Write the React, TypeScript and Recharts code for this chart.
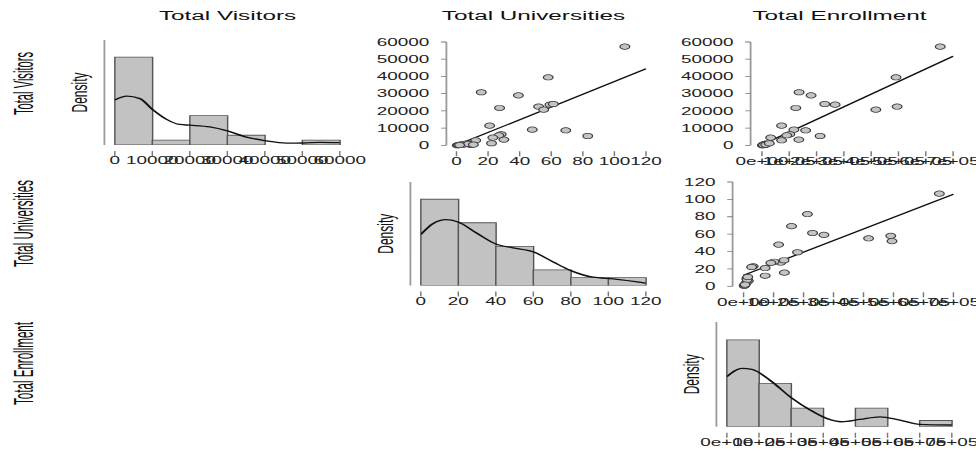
import { Bar, ComposedChart, Label, Line, Scatter, XAxis, YAxis } from "recharts";

// the source image was exported with a horizontal stretch, so draw narrow and scale X
const STRETCH = 1.8;
const PAGE_W = 976 / STRETCH;
const FONT = "'Liberation Sans', Arial, Helvetica, sans-serif";
const AXIS = "#9a9a9a";
const TICK = "#777";
const TICK_FONT = 10.5;
const TOP_PAD = 6;
const RIGHT_PAD = 18;
const X_AXIS_H = 30;

// one record per observation
const visitors = [57300, 39500, 22500, 20700, 23600, 24000, 5400, 29000, 30800, 21700, 8700, 9100, 3300, 6400, 11400, 5800, 2900, 4500, 0, 600, 1000, 200, 100, 300, 800, 150, 400, 1200];
const universities = [106.6, 58.1, 52, 55.2, 59.2, 61.3, 83.1, 39.2, 15.7, 27.3, 69.2, 48, 30, 28.3, 21, 26.9, 12.2, 23, 0.5, 3.1, 6.3, 9, 1.2, 4, 7.5, 2, 10.7, 22.2];
const enrollment = [653000, 491000, 495000, 417000, 268000, 230000, 213000, 180000, 136000, 124000, 160000, 117000, 135000, 102000, 72000, 91000, 72000, 32000, 2000, 7000, 16000, 11000, 3000, 9000, 12000, 5000, 14000, 27000];

const titles = ["Total Visitors", "Total Universities", "Total Enrollment"];

// histogram bins
const visitorEdges = [0, 10000, 20000, 30000, 40000, 50000, 60000];
const visitorCounts = [18, 1, 6, 2, 0, 1];
const universityEdges = [0, 20, 40, 60, 80, 100, 120];
const universityCounts = [11, 8, 5, 2, 1, 1];
const enrollmentEdges = [0, 100000, 200000, 300000, 400000, 500000, 600000, 700000];
const enrollmentCounts = [14, 7, 3, 0, 3, 0, 1];

// density curves (on the count scale of each histogram)
const visitorCurveX = [0, 3200, 6700, 10000, 13800, 17300, 20000, 25300, 30000, 35100, 40000, 45800, 50200, 54700, 60000];
const visitorCurveY = [9.2, 10.0, 9.5, 7.3, 5.25, 4.2, 4.05, 3.7, 2.9, 1.6, 0.9, 0.4, 0.41, 0.55, 0.48];
const universityCurveX = [0, 6.6, 13.3, 19.9, 29.7, 40, 49.2, 59.9, 70.6, 80, 91.9, 102.6, 120];
const universityCurveY = [6.5, 7.9, 8.4, 8.1, 6.7, 5.3, 4.8, 4.3, 3.0, 1.9, 1.06, 0.85, 0.3];
const enrollmentCurveX = [0, 47000, 78000, 134000, 200000, 259000, 310000, 357000, 414000, 476000, 538000, 600000, 700000];
const enrollmentCurveY = [8.06, 9.4, 9.25, 7.5, 4.7, 2.7, 1.34, 0.8, 1.18, 1.6, 1.07, 0.38, 0.27];

// fitted lines
const fitVisUnivX = [1, 120];
const fitVisUnivY = [400, 44500];
const fitVisEnrX = [4000, 700000];
const fitVisEnrY = [600, 51700];
const fitUnivEnrX = [0, 700000];
const fitUnivEnrY = [12.7, 105.8];

// ticks
const visitorTicks = [0, 10000, 20000, 30000, 40000, 50000, 60000];
const universityTicks = [0, 20, 40, 60, 80, 100, 120];
const enrollmentTicks = [0, 100000, 200000, 300000, 400000, 500000, 600000, 700000];
const enrollmentTickLabels = ["0e+00", "1e+05", "2e+05", "3e+05", "4e+05", "5e+05", "6e+05", "7e+05"];

type Frame = { left: number; right: number; top: number; bottom: number; pad: number; axisW: number };

const XTick = ({ x, y, payload, ticks, labels }: any) => {
  const i = ticks.indexOf(payload.value);
  const text = labels ? labels[i] : String(payload.value);
  return (
    <g>
      <line x1={x} x2={x} y1={y + 6} y2={y + 11} stroke={TICK} strokeWidth={0.8} />
      <text x={x} y={y + 12} dy="0.71em" textAnchor="middle" fontSize={TICK_FONT} fill="#222" fontFamily={FONT}>
        {text}
      </text>
    </g>
  );
};

const boxStyle = (f: Frame) => ({
  position: "absolute" as const,
  left: f.left - f.axisW,
  top: f.top - TOP_PAD,
});

const Histogram = ({ frame, edges, counts, yMax, curveX, curveY, ticks, labels }: any) => {
  const bars = counts.map((c: number, i: number) => ({ bin: `${edges[i]}-${edges[i + 1]}`, count: c }));
  const curve = curveX.map((x: number, i: number) => ({ x, y: curveY[i] }));
  const f: Frame = frame;
  return (
    <div style={boxStyle(f)}>
      <ComposedChart
        width={f.axisW + f.right - f.left + RIGHT_PAD}
        height={TOP_PAD + f.bottom - f.top + X_AXIS_H}
        data={bars}
        margin={{ top: TOP_PAD, right: RIGHT_PAD, bottom: 0, left: 0 }}
        barCategoryGap={0}
        barGap={0}
      >
        <XAxis
          xAxisId="bins"
          dataKey="bin"
          type="category"
          orientation="top"
          height={0}
          hide
          padding={{ left: f.pad, right: 0 }}
        />
        <XAxis
          xAxisId="num"
          dataKey="x"
          type="number"
          domain={[edges[0], edges[edges.length - 1]]}
          allowDataOverflow
          ticks={ticks}
          interval={0}
          padding={{ left: f.pad, right: 0 }}
          height={X_AXIS_H}
          axisLine={false}
          tickLine={false}
          tickSize={0}
          tickMargin={0}
          tick={(p: any) => <XTick {...p} ticks={ticks} labels={labels} />}
        />
        <YAxis
          type="number"
          domain={[0, yMax]}
          allowDataOverflow
          width={f.axisW}
          tick={false}
          tickLine={false}
          axisLine={{ stroke: AXIS }}
        >
          <Label value="Density" angle={-90} position="center" fontSize={12} fill="#111" fontFamily={FONT} />
        </YAxis>
        <Bar xAxisId="bins" dataKey="count" fill="#c2c2c2" stroke="#555" strokeWidth={0.8} isAnimationActive={false} />
        <Line
          xAxisId="num"
          data={curve}
          dataKey="y"
          type="monotone"
          dot={false}
          stroke="#111"
          strokeWidth={1.3}
          isAnimationActive={false}
        />
      </ComposedChart>
    </div>
  );
};

const Dot = (p: any) => <circle cx={p.cx} cy={p.cy} r={2.7} fill="#c4c4c4" stroke="#3a3a3a" strokeWidth={0.7} />;

const ScatterPanel = ({ frame, xs, ys, fitX, fitY, xTicks, xLabels, yTicks }: any) => {
  const f: Frame = frame;
  const pts = xs.map((x: number, i: number) => ({ x, y: ys[i] }));
  const fit = fitX.map((x: number, i: number) => ({ x, y: fitY[i] }));
  return (
    <div style={boxStyle(f)}>
      <ComposedChart
        width={f.axisW + f.right - f.left + RIGHT_PAD}
        height={TOP_PAD + f.bottom - f.top + X_AXIS_H}
        margin={{ top: TOP_PAD, right: RIGHT_PAD, bottom: 0, left: 0 }}
      >
        <XAxis
          dataKey="x"
          type="number"
          domain={[xTicks[0], xTicks[xTicks.length - 1]]}
          ticks={xTicks}
          interval={0}
          padding={{ left: f.pad, right: 0 }}
          height={X_AXIS_H}
          axisLine={false}
          tickLine={false}
          tickSize={0}
          tickMargin={0}
          tick={(p: any) => <XTick {...p} ticks={xTicks} labels={xLabels} />}
        />
        <YAxis
          dataKey="y"
          type="number"
          domain={[yTicks[0], yTicks[yTicks.length - 1]]}
          ticks={yTicks}
          interval={0}
          width={f.axisW}
          tickSize={3}
          tickMargin={6.5}
          tick={{ fontSize: TICK_FONT, fill: "#222", fontFamily: FONT }}
          tickLine={{ stroke: TICK, strokeWidth: 0.8 }}
          axisLine={{ stroke: AXIS }}
        />
        <Scatter data={pts} shape={Dot} isAnimationActive={false} />
        <Line data={fit} dataKey="y" type="linear" dot={false} stroke="#111" strokeWidth={1.2} isAnimationActive={false} />
      </ComposedChart>
    </div>
  );
};

const COL_LEFT = [63.9, 233.9, 403.9];
const COL_W = 125;

const rowLabels = [
  { text: "Total Visitors", y: 83.5, len: 63 },
  { text: "Total Universities", y: 223.5, len: 87 },
  { text: "Total Enrollment", y: 363.5, len: 83 },
];

export default function App() {
  return (
    <div style={{ position: "absolute", left: 0, top: 0, width: 976, height: 453, overflow: "hidden", background: "#fff" }}>
      <div
        style={{
          position: "relative",
          width: PAGE_W,
          height: 453,
          transform: `scaleX(${STRETCH})`,
          transformOrigin: "0 0",
          fontFamily: FONT,
        }}
      >
        <svg width={PAGE_W} height={453} style={{ position: "absolute", left: 0, top: 0 }}>
          {titles.map((t, i) => (
            <text key={t} x={COL_LEFT[i] + COL_W / 2} y={20} textAnchor="middle" fontSize={13.5} fill="#111" fontFamily={FONT}>
              {t}
            </text>
          ))}
          {rowLabels.map((r) => (
            <text
              key={r.text}
              transform={`translate(12.8,${r.y}) rotate(-90)`}
              textAnchor="middle"
              dy="0.35em"
              fontSize={15.5}
              textLength={r.len}
              lengthAdjust="spacingAndGlyphs"
              fill="#111"
              fontFamily={FONT}
            >
              {r.text}
            </text>
          ))}
        </svg>

        <Histogram
          frame={{ left: 58.1, right: 188.9, top: 40, bottom: 145, pad: 5.8, axisW: 28 }}
          edges={visitorEdges}
          counts={visitorCounts}
          yMax={21.5}
          curveX={visitorCurveX}
          curveY={visitorCurveY}
          ticks={visitorTicks}
        />
        <ScatterPanel
          frame={{ left: 248.3, right: 359.2, top: 41.7, bottom: 145, pad: 5.6, axisW: 44 }}
          xs={universities}
          ys={visitors}
          fitX={fitVisUnivX}
          fitY={fitVisUnivY}
          xTicks={universityTicks}
          yTicks={visitorTicks}
        />
        <ScatterPanel
          frame={{ left: 417.2, right: 529.7, top: 41.7, bottom: 145, pad: 6.3, axisW: 44 }}
          xs={enrollment}
          ys={visitors}
          fitX={fitVisEnrX}
          fitY={fitVisEnrY}
          xTicks={enrollmentTicks}
          xLabels={enrollmentTickLabels}
          yTicks={visitorTicks}
        />
        <Histogram
          frame={{ left: 228.1, right: 358.9, top: 182, bottom: 285.5, pad: 5.8, axisW: 28 }}
          edges={universityEdges}
          counts={universityCounts}
          yMax={13.2}
          curveX={universityCurveX}
          curveY={universityCurveY}
          ticks={universityTicks}
        />
        <ScatterPanel
          frame={{ left: 406.5, right: 529.2, top: 181.7, bottom: 286, pad: 6.1, axisW: 32 }}
          xs={enrollment}
          ys={universities}
          fitX={fitUnivEnrX}
          fitY={fitUnivEnrY}
          xTicks={enrollmentTicks}
          xLabels={enrollmentTickLabels}
          yTicks={universityTicks}
        />
        <Histogram
          frame={{ left: 398.1, right: 528.9, top: 322, bottom: 426.7, pad: 5.8, axisW: 28 }}
          edges={enrollmentEdges}
          counts={enrollmentCounts}
          yMax={16.9}
          curveX={enrollmentCurveX}
          curveY={enrollmentCurveY}
          ticks={enrollmentTicks}
          labels={enrollmentTickLabels}
        />
      </div>
    </div>
  );
}
